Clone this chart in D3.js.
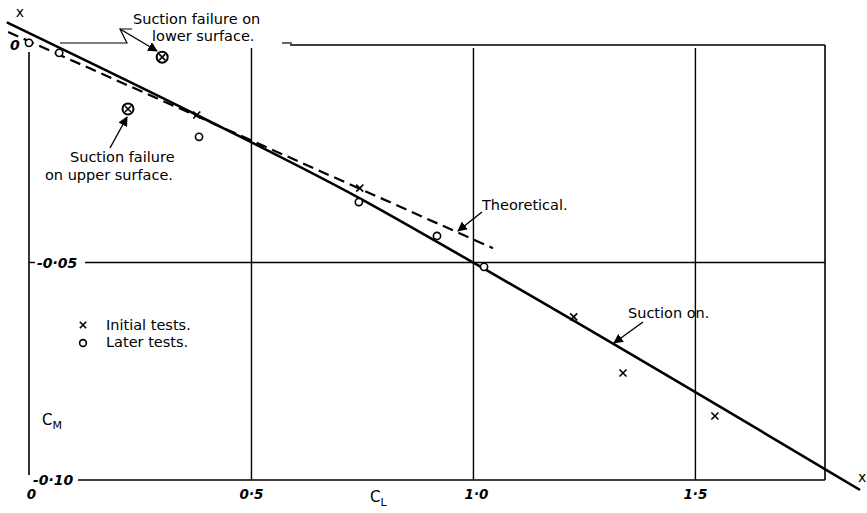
<!DOCTYPE html>
<html>
<head>
<meta charset="utf-8">
<script src="https://cdn.jsdelivr.net/npm/d3@7"></script>
<style>
  body { margin: 0; background: #fff; }
  text { font-family: "DejaVu Sans", sans-serif; fill: #000; }
</style>
</head>
<body>
<div id="chart"></div>
<script>
//DATA
let initialCL = [0.378, 0.745, 1.227, 1.338, 1.545];
let initialCM = [-0.0161, -0.0329, -0.0625, -0.0754, -0.0853];
let laterCL = [0.0, 0.068, 0.383, 0.743, 0.919, 1.025];
let laterCM = [0.0005, -0.0018, -0.0211, -0.0361, -0.0439, -0.051];
let failureCL = [0.30, 0.223];
let failureCM = [-0.0028, -0.0147];
let suctionCL = [-0.05, 0.378, 0.739, 1.002, 1.872];
let suctionCM = [0.0052, -0.0161, -0.0349, -0.0501, -0.1023];
let theoryCL = [-0.047, 1.045];
let theoryCM = [0.003, -0.0467];
let xTicks = [0, 0.5, 1.0, 1.5];
let xTickLabels = ["0", "0·5", "1·0", "1·5"];
let yTicks = [0, -0.05, -0.1];
let yTickLabels = ["0", "-0·05", "-0·10"];

//DIMENSIONS
let WIDTH = 867, HEIGHT = 513;

let svg = d3.select("#chart").append("svg")
  .attr("width", WIDTH).attr("height", HEIGHT);

let x = d3.scaleLinear().domain([0, 1.793]).range([29, 825]);
let y = d3.scaleLinear().domain([0, -0.1]).range([45, 480]);

//FRAME + GRID
let frame = svg.append("g").attr("stroke", "#000").attr("fill", "none");
frame.append("line").attr("x1", x(0)).attr("x2", x(0)).attr("y1", 52).attr("y2", y(-0.1) - 5).attr("stroke-width", 1.6);
frame.append("line").attr("x1", 78).attr("x2", x(1.793)).attr("y1", y(-0.1)).attr("y2", y(-0.1)).attr("stroke-width", 1.6);
frame.append("line").attr("x1", x(1.793)).attr("x2", x(1.793)).attr("y1", y(0)).attr("y2", y(-0.1)).attr("stroke-width", 1.6);
frame.append("line").attr("x1", 290).attr("x2", x(1.793)).attr("y1", y(0)).attr("y2", y(0)).attr("stroke-width", 1.6);

//x axis with gridlines
let xAxis = svg.append("g")
  .attr("transform", `translate(0,${y(-0.1)})`)
  .call(d3.axisBottom(x).tickValues(xTicks).tickSize(-(y(-0.1) - y(0)) + 3)
    .tickPadding(9).tickFormat((d, i) => xTickLabels[i]));
xAxis.select(".domain").remove();
xAxis.selectAll(".tick line").attr("stroke", "#000").attr("stroke-width", 1.4)
  .attr("display", (d) => (d === 0 ? "none" : null));
xAxis.selectAll(".tick text").attr("font-size", 13.5).attr("font-style", "italic")
  .attr("font-weight", "bold").attr("fill", "#000")
  .attr("dx", (d) => (d === 0 ? 2 : d === 1 ? 3 : 0));

//horizontal gridline at -0.05
svg.append("line").attr("x1", 85).attr("x2", x(1.793))
  .attr("y1", y(-0.05)).attr("y2", y(-0.05)).attr("stroke", "#000").attr("stroke-width", 1.4);
svg.append("line").attr("x1", x(0)).attr("x2", x(0) + 6)
  .attr("y1", y(-0.05)).attr("y2", y(-0.05)).attr("stroke", "#000").attr("stroke-width", 1.4);

//y labels
let yLab = svg.append("g");
yLab.selectAll("text").data(yTicks).enter().append("text")
  .attr("x", (d, i) => (i === 0 ? 10 : i === 1 ? 37 : 33))
  .attr("y", (d) => y(d) + 5)
  .attr("font-size", (d, i) => (i === 0 ? 14 : 14))
  .attr("font-weight", "bold")
  .attr("font-style", "italic")
  .text((d, i) => yTickLabels[i]);

//axis titles
let cm = svg.append("text").attr("x", 42).attr("y", 425).attr("font-size", 15);
cm.append("tspan").text("C");
cm.append("tspan").attr("font-size", 11).attr("dy", 4).text("M");
let cl = svg.append("text").attr("x", 370).attr("y", 502).attr("font-size", 15);
cl.append("tspan").text("C");
cl.append("tspan").attr("font-size", 11).attr("dy", 4).text("L");

//LINES
let suctionData = suctionCL.map((d, i) => [d, suctionCM[i]]);
let theoryData = theoryCL.map((d, i) => [d, theoryCM[i]]);
let lineGen = d3.line().x((d) => x(d[0])).y((d) => y(d[1])).curve(d3.curveMonotoneX);

svg.append("path").datum(theoryData).attr("d", lineGen)
  .attr("stroke", "#000").attr("stroke-width", 2.2).attr("fill", "none")
  .attr("stroke-dasharray", "11,6");
svg.append("path").datum(suctionData).attr("d", lineGen)
  .attr("stroke", "#000").attr("stroke-width", 2.6).attr("fill", "none");

//line end marks
svg.append("text").attr("x", x(suctionCL[0]) + 13).attr("y", y(suctionCM[0]) - 5)
  .attr("font-size", 14).attr("text-anchor", "middle").text("x");
svg.append("text").attr("x", x(1.872) + 2).attr("y", y(-0.1023) - 8)
  .attr("font-size", 14).attr("text-anchor", "middle").text("x");

//POINTS
let crossPath = (cx, cy, s) =>
  `M${cx - s},${cy - s}L${cx + s},${cy + s}M${cx - s},${cy + s}L${cx + s},${cy - s}`;

svg.append("g").selectAll("path").data(initialCL).enter().append("path")
  .attr("d", (d, i) => crossPath(x(d), y(initialCM[i]), 3.5))
  .attr("stroke", "#000").attr("stroke-width", 1.6);

svg.append("g").selectAll("circle").data(laterCL).enter().append("circle")
  .attr("cx", (d) => x(d)).attr("cy", (d, i) => y(laterCM[i])).attr("r", 3.6)
  .attr("fill", "#fff").attr("stroke", "#000").attr("stroke-width", 1.6);

let fail = svg.append("g").selectAll("g").data(failureCL).enter().append("g");
fail.append("circle").attr("cx", (d) => x(d)).attr("cy", (d, i) => y(failureCM[i])).attr("r", 5.5)
  .attr("fill", "#fff").attr("stroke", "#000").attr("stroke-width", 2);
fail.append("path").attr("d", (d, i) => crossPath(x(d), y(failureCM[i]), 3))
  .attr("stroke", "#000").attr("stroke-width", 1.6);

//ANNOTATIONS
svg.append("defs").append("marker").attr("id", "arr").attr("viewBox", "0 0 10 10")
  .attr("refX", 9).attr("refY", 5).attr("markerWidth", 7).attr("markerHeight", 7)
  .attr("orient", "auto").append("path").attr("d", "M0,0L10,5L0,10z").attr("fill", "#000");

let notes = [
  { t: "Suction failure on", x: 133, y: 24 },
  { t: "lower surface.", x: 152, y: 41 },
  { t: "Suction failure", x: 70, y: 162 },
  { t: "on upper surface.", x: 45, y: 180 },
  { t: "Theoretical.", x: 482, y: 210 },
  { t: "Suction on.", x: 628, y: 318 },
  { t: "Initial tests.", x: 106, y: 330 },
  { t: "Later tests.", x: 106, y: 347 }
];
svg.append("g").selectAll("text").data(notes).enter().append("text")
  .attr("x", (d) => d.x).attr("y", (d) => d.y).attr("font-size", 14.5)
  .text((d) => d.t);

//legend symbols
svg.append("path").attr("d", crossPath(83, 325, 3.2)).attr("stroke", "#000").attr("stroke-width", 1.6);
svg.append("circle").attr("cx", 83).attr("cy", 343).attr("r", 3.4)
  .attr("fill", "none").attr("stroke", "#000").attr("stroke-width", 1.6);

let leaders = [
  [[120, 29], [157, 51]],
  [[110, 148], [127, 117]],
  [[482, 212], [458, 231]],
  [[643, 322], [614, 343]]
];
svg.append("g").selectAll("path").data(leaders).enter().append("path")
  .attr("d", (d) => d3.line()(d)).attr("stroke", "#000").attr("stroke-width", 1.4)
  .attr("fill", "none").attr("marker-end", "url(#arr)");
// bracket from the upper note down to the top edge
svg.append("path").attr("d", "M132,29L120,29L127,43L60,43").attr("stroke", "#000")
  .attr("stroke-width", 1.2).attr("fill", "none");
svg.append("line").attr("x1", 282).attr("x2", 292).attr("y1", 43).attr("y2", 43)
  .attr("stroke", "#000").attr("stroke-width", 1.2);
</script>
</body>
</html>
